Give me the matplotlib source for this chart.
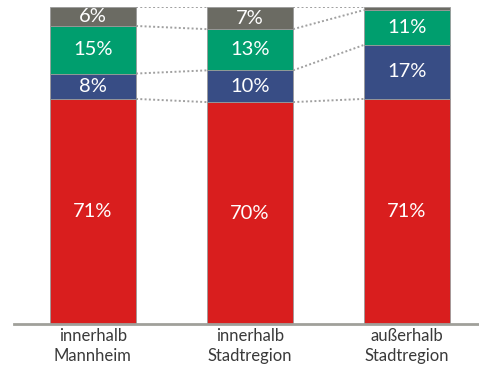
import matplotlib.pyplot as plt
import numpy as np

plt.rcParams['font.family'] = ['Lato', 'DejaVu Sans']

categories = ["innerhalb\nMannheim", "innerhalb\nStadtregion", "außerhalb\nStadtregion"]
red = [71, 70, 71]
blue = [8, 10, 17]
green = [15, 13, 11]
gray = [6, 7, 1]

series = [red, blue, green, gray]
colors = ["#D91E1E", "#384D85", "#009E6E", "#6B6B63"]

fig = plt.figure(figsize=(4.79, 3.65), dpi=100)
ax = fig.add_axes([0.029, 0.112, 0.971, 0.869])

x = np.arange(len(categories))
width = 0.55
bottom = np.zeros(len(categories))
for vals, col in zip(series, colors):
    vals = np.array(vals, dtype=float)
    ax.bar(x, vals, width, bottom=bottom, color=col, edgecolor="#9a9a9a", linewidth=0.6, zorder=2)
    for xi, b, v in zip(x, bottom, vals):
        if v >= 3:
            ax.text(xi, b + v / 2, f"{int(v)}%", ha="center", va="center",
                    color="white", fontsize=14.5, zorder=3)
    bottom += vals

# dotted connectors between segment boundaries
cum = np.cumsum(np.array(series, dtype=float), axis=0)
for level in cum:
    for i in range(len(categories) - 1):
        ax.plot([x[i] + width / 2, x[i + 1] - width / 2], [level[i], level[i + 1]],
                color="#a0a0a0", linestyle=(0, (1, 1.2)), linewidth=1.4, zorder=1)

ax.set_xlim(-0.503, 2.459)
ax.set_ylim(0, 100)
ax.set_xticks(x)
ax.set_xticklabels(categories, fontsize=12, color="#3a3a3a", linespacing=1.3)
ax.tick_params(axis="x", length=0, pad=3)
ax.set_yticks([])
for s in ["top", "right", "left"]:
    ax.spines[s].set_visible(False)
ax.spines["bottom"].set_color("#a0a09a")
ax.spines["bottom"].set_linewidth(2)

fig.savefig("out.png", dpi=100)
